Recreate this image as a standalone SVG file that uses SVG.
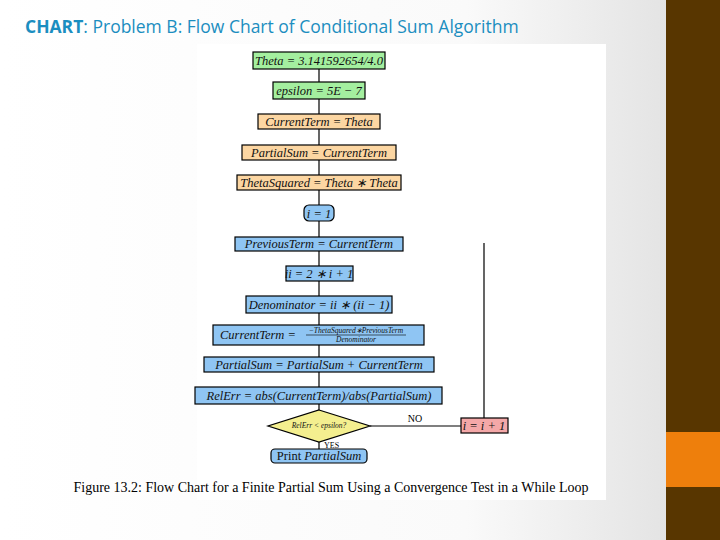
<svg xmlns="http://www.w3.org/2000/svg" width="720" height="540" viewBox="0 0 720 540">
<defs>
<linearGradient id="bg" x1="0" y1="0" x2="1" y2="0">
<stop offset="0" stop-color="#ffffff"/><stop offset="0.7" stop-color="#fafafa"/><stop offset="1" stop-color="#e4e4e4"/>
</linearGradient>
</defs>
<style>
.n{stroke:#000;stroke-width:1.2}
.g{fill:#a4ef9f}.o{fill:#fcd6a2}.b{fill:#8fc5f3}.y{fill:#f4ef8f}.p{fill:#f4a8a8}
.t{font-family:"Liberation Serif",serif;font-style:italic;font-size:12.5px;text-anchor:middle;fill:#111}
.s{font-size:7.5px}
.c{stroke:#000;stroke-width:1.2;fill:none}
</style>
<rect width="666" height="540" fill="url(#bg)"/>
<rect x="666" y="0" width="54" height="540" fill="#583600"/>
<rect x="666" y="432" width="54" height="55" fill="#ee7f0c"/>
<text x="25" y="33" font-family="Open Sans,sans-serif" font-size="17.5" fill="#1b8ec0"><tspan font-weight="bold">CHART</tspan>: Problem B: Flow Chart of Conditional Sum Algorithm</text>
<rect x="197" y="44" width="409" height="456" fill="#fff"/>
<g id="connectors">
<path class="c" d="M319,69V82M319,99V114M319,129V145M319,160V175M319,190V205M319,221V237M319,251V266M319,281V296M319,313V325M319,345V357M319,372V387M319,404V410M319,442V449"/>
<path class="c" d="M370,426H461M484,418V243"/>
</g>
<g id="n1"><rect class="n g" x="253" y="52" width="132" height="17"/><text class="t" x="319" y="65">Theta = 3.141592654/4.0</text></g>
<g id="n2"><rect class="n g" x="273" y="82" width="92" height="17"/><text class="t" x="319" y="95">epsilon = 5E − 7</text></g>
<g id="n3"><rect class="n o" x="258" y="114" width="122" height="15"/><text class="t" x="319" y="126">CurrentTerm = Theta</text></g>
<g id="n4"><rect class="n o" x="242" y="145" width="154" height="15"/><text class="t" x="319" y="157">PartialSum = CurrentTerm</text></g>
<g id="n5"><rect class="n o" x="237" y="175" width="164" height="15"/><text class="t" x="319" y="187">ThetaSquared = Theta ∗ Theta</text></g>
<g id="n6"><rect class="n b" x="304" y="205" width="30" height="16" rx="5"/><text class="t" x="319" y="218">i = 1</text></g>
<g id="n7"><rect class="n b" x="235" y="237" width="168" height="14"/><text class="t" x="319" y="248">PreviousTerm = CurrentTerm</text></g>
<g id="n8"><rect class="n b" x="286" y="266" width="67" height="15"/><text class="t" x="319" y="278">ii = 2 ∗ i + 1</text></g>
<g id="n9"><rect class="n b" x="246" y="296" width="146" height="17"/><text class="t" x="319" y="309">Denominator = ii ∗ (ii − 1)</text></g>
<g id="n10"><rect class="n b" x="213" y="325" width="211" height="20"/><text class="t" x="258" y="339">CurrentTerm =</text><text class="t s" x="356" y="333">−ThetaSquared∗PreviousTerm</text><line x1="306" y1="335" x2="406" y2="335" stroke="#000" stroke-width="0.6"/><text class="t s" x="356" y="342">Denominator</text></g>
<g id="n11"><rect class="n b" x="204" y="357" width="230" height="15"/><text class="t" x="319" y="369">PartialSum = PartialSum + CurrentTerm</text></g>
<g id="n12"><rect class="n b" x="195" y="387" width="247" height="17"/><text class="t" x="319" y="400">RelErr = abs(CurrentTerm)/abs(PartialSum)</text></g>
<g id="n13"><path class="n y" d="M319,410L370,426L319,442L268,426z"/><text class="t s" x="319" y="428">RelErr &lt; epsilon?</text></g>
<g id="n14"><rect class="n b" x="271" y="449" width="96" height="14" rx="4"/><text class="t" x="319" y="460"><tspan font-style="normal">Print </tspan>PartialSum</text></g>
<g id="n15"><rect class="n p" x="461" y="418" width="47" height="15"/><text class="t" x="484" y="430">i = i + 1</text></g>
<text x="415" y="422" font-family="Liberation Serif,serif" font-size="10" text-anchor="middle">NO</text>
<text x="324" y="447.5" font-family="Liberation Serif,serif" font-size="8" text-anchor="start">YES</text>
<text x="331" y="492" font-family="Liberation Serif,serif" font-size="14" text-anchor="middle">Figure 13.2: Flow Chart for a Finite Partial Sum Using a Convergence Test in a While Loop</text>
</svg>
